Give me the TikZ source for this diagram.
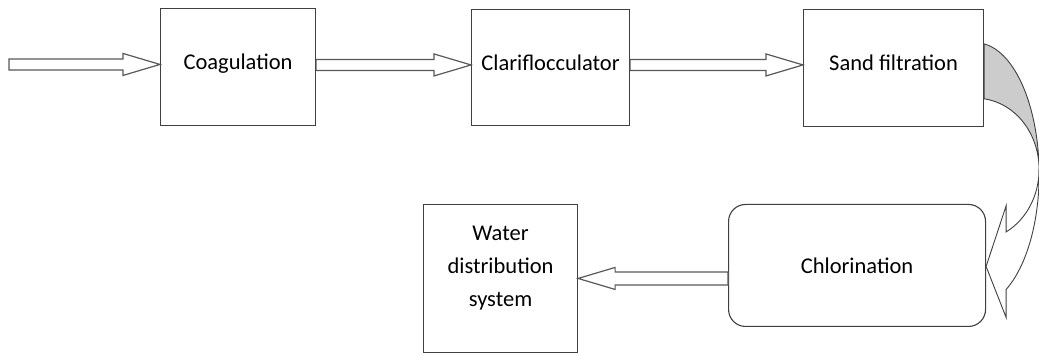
\documentclass[tikz,border=0pt]{standalone}
\usepackage{fontspec}
\setmainfont{Carlito}
\usetikzlibrary{calc}
\tikzset{
  procbox/.style={draw=black!75, line width=1.1pt, fill=white, anchor=south west, inner sep=0pt, align=center},
  topbox/.style={procbox, text height=10pt, text depth=4pt},
  blockarr/.style={draw=black!65, line width=1.2pt, fill=white, line join=miter},
  backface/.style={draw=black!75, line width=0.9pt, fill=gray!40},
  frontface/.style={draw=black!75, line width=0.9pt, fill=white}
}
\newcommand\blockarrow[3]{%
  \draw[blockarr] let \p1=#1, \p2=#2, \n1={ifthenelse(\x2>\x1,37,-37)} in
    (\x1,\y2+#3) -- ({\x2-\n1*1pt},\y2+#3) -- ({\x2-\n1*1pt},\y2+11pt) -- (\x2,\y2)
    -- ({\x2-\n1*1pt},\y2-11pt) -- ({\x2-\n1*1pt},\y2-#3) -- (\x1,\y2-#3) -- cycle;}
\begin{document}
\begin{tikzpicture}[x=1pt,y=1pt,font=\fontsize{22.5}{33}\selectfont]
\fill[white] (0,0) rectangle (1039,356);
\useasboundingbox (0,0) rectangle (1039,356);
% boxes
\node[topbox, minimum width=155pt, minimum height=117pt] (coag) at (160,230) {Coagulation};
\node[topbox, minimum width=158pt, minimum height=116pt] (clari) at (471,230) {Clariflocculator};
\node[topbox, minimum width=180pt, minimum height=117pt] (sand) at (803,229) {Sand filtration};
\node[procbox, rounded corners=17pt, minimum width=257pt, minimum height=122pt, text height=18pt, text depth=1pt] (chlor) at (728,29) {Chlorination};
\node[procbox, minimum width=154pt, minimum height=148pt] (water) at (423,3)
  {\raisebox{6pt}[0pt][0pt]{\begin{tabular}{@{}c@{}}Water\\distribution\\system\end{tabular}}};
% block arrows
\coordinate (in) at (9,291);
\blockarrow{(in)}{($(coag.west)+(0,2.5)$)}{5.5pt}
\blockarrow{($(coag.east)+(0,2.5)$)}{($(clari.west)+(0,2.5)$)}{5.5pt}
\blockarrow{($(clari.east)+(0,2.5)$)}{($(sand.west)+(0,3)$)}{5.5pt}
\blockarrow{(chlor.west)}{(water.east)}{6.5pt}
% curved arrow from sand filtration to chlorination
\coordinate (ctop) at ($(sand.north east)+(0,-35)$);
\coordinate (cinner) at ($(sand.north east)+(0,-90)$);
\coordinate (ctip) at ($(chlor.east)+(0,-1)$);
\path[backface] (ctop) arc[start angle=82.7, end angle=0, x radius=63, y radius=131]
  -- ++(0,4.5) arc[start angle=0, end angle=82.7, x radius=63, y radius=71.1] -- cycle;
\path[frontface] ($(cinner)+(55,-70.5)$) arc[start angle=0, end angle=-61.6, x radius=63, y radius=71.1]
  -- ++(0,26) -- (ctip) -- ++(20,-51) -- ++(0,28)
  arc[start angle=-61.6, end angle=0, x radius=63, y radius=131] -- cycle;
\end{tikzpicture}
\end{document}
